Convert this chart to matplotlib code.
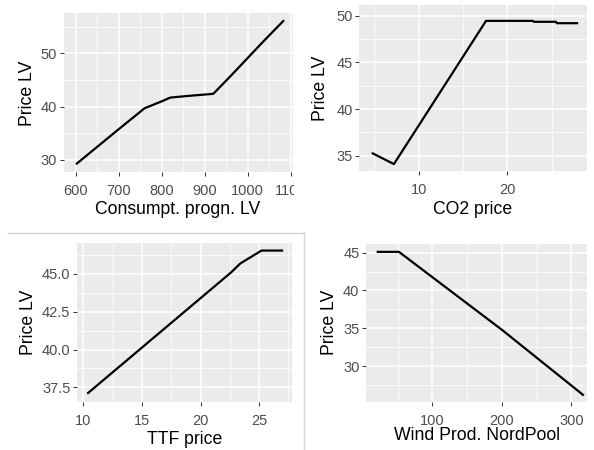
import matplotlib
matplotlib.use("Agg")
import matplotlib.pyplot as plt
from matplotlib.lines import Line2D
from matplotlib.transforms import Bbox, TransformedBbox

plt.rcParams["font.family"] = ["Liberation Sans", "DejaVu Sans"]

W, H = 594, 450

# partial-dependence curves of the LV price
consumpt_x = [600, 650, 700, 760, 800, 820, 860, 920, 960, 1000, 1040, 1085]
consumpt_y = [29.2, 32.5, 35.8, 39.7, 41.0, 41.7, 42.0, 42.4, 45.7, 49.1, 52.5, 56.2]

co2_x = [4.7, 7.2, 17.6, 22.9, 23.0, 25.5, 25.6, 28.0]
co2_y = [35.3, 34.1, 49.45, 49.45, 49.35, 49.35, 49.2, 49.2]

ttf_x = [10.34, 22.6, 23.4, 25.2, 27.05]
ttf_y = [37.08, 45.1, 45.7, 46.55, 46.55]

wind_x = [20, 52, 200, 318]
wind_y = [45.1, 45.1, 34.8, 26.1]

# axis breaks
consumpt_xticks = [600, 700, 800, 900, 1000, 1100]
consumpt_yticks = [30, 40, 50]
co2_xticks = [10, 20]
co2_yticks = [35, 40, 45, 50]
ttf_xticks = [10, 15, 20, 25]
ttf_yticks = [37.5, 40.0, 42.5, 45.0]
wind_xticks = [100, 200, 300]
wind_yticks = [30, 35, 40, 45]

fig = plt.figure(figsize=(W / 100, H / 100), dpi=100)


def fx(px):
    return px / W


def fy(py):
    return 1 - py / H


def minors(ticks, lo, hi):
    step = ticks[1] - ticks[0]
    out = []
    v = ticks[0] - step / 2
    while v > lo:
        out.append(v)
        v -= step
    v = ticks[0] + step / 2
    while v < hi:
        out.append(v)
        v += step
    return out


def panel(box, x, y, xlim, ylim, xticks, yticks, xlabel, xlab_px, ylab_px, yfmt="{:g}"):
    l, t, r, b = box
    ax = fig.add_axes([fx(l), fy(b), (r - l) / W, (b - t) / H])
    ax.set_facecolor("#EBEBEB")
    for s in ax.spines.values():
        s.set_visible(False)
    ax.set_xticks(xticks)
    ax.set_yticks(yticks, labels=[yfmt.format(v) for v in yticks])
    ax.set_xticks(minors(xticks, *xlim), minor=True)
    ax.set_yticks(minors(yticks, *ylim), minor=True)
    ax.grid(which="major", color="white", lw=1.1)
    ax.grid(which="minor", color="white", lw=0.55)
    ax.set_axisbelow(True)
    ax.tick_params(which="major", length=3, width=0.7, color="#333333",
                   labelcolor="#4D4D4D", labelsize=10.5)
    ax.tick_params(which="minor", length=0)
    ax.tick_params(axis="x", pad=5.5)
    ax.tick_params(axis="y", pad=1.5)
    ax.plot(x, y, color="black", lw=1.6, solid_capstyle="butt")
    ax.set_xlim(xlim)
    ax.set_ylim(ylim)
    ax.set_xlabel(xlabel, fontsize=12.7)
    ax.set_ylabel("Price LV", fontsize=12.7)
    ax.xaxis.set_label_coords(fx(xlab_px[0]), fy(xlab_px[1]), transform=fig.transFigure)
    ax.yaxis.set_label_coords(fx(ylab_px[0]), fy(ylab_px[1]), transform=fig.transFigure)
    ax.xaxis.label.set_va("center")
    ax.yaxis.label.set_va("center")
    return ax


ax1 = panel((63.5, 13, 293, 172), consumpt_x, consumpt_y, (570.9, 1105.8), (27.75, 57.55),
            consumpt_xticks, consumpt_yticks, "Consumpt. progn. LV", (178, 210), (27.5, 93))
ax2 = panel((359, 5, 587, 171), co2_x, co2_y, (3.26, 29.0), (33.36, 51.15),
            co2_xticks, co2_yticks, "CO2 price", (473, 209), (320.5, 88))
ax3 = panel((76.7, 243.3, 292, 401.7), ttf_x, ttf_y, (9.44, 27.8), (36.55, 47.03),
            ttf_xticks, ttf_yticks, "TTF price", (184.5, 439.5), (28.5, 322), yfmt="{:.1f}")
ax4 = panel((365.7, 244.3, 587.3, 402.3), wind_x, wind_y, (4.2, 323), (25.2, 46.1),
            wind_xticks, wind_yticks, "Wind Prod. NordPool", (476.5, 436), (329, 322))

# the top-left plot is cut off at its right edge
cut = TransformedBbox(Bbox([[0, 0], [294 / W, 1]]), fig.transFigure)
for tick in ax1.xaxis.get_major_ticks():
    tick.label1.set_clip_box(cut)
    tick.label1.set_clip_on(True)

# frame around the bottom-left plot
frame = dict(transform=fig.transFigure, color="#d6d6d6", lw=1.0)
fig.add_artist(Line2D([fx(8), fx(304)], [fy(232.5), fy(232.5)], **frame))
fig.add_artist(Line2D([fx(304), fx(304)], [fy(232.5), fy(450)], **frame))

fig.savefig("out.png", dpi=100)
